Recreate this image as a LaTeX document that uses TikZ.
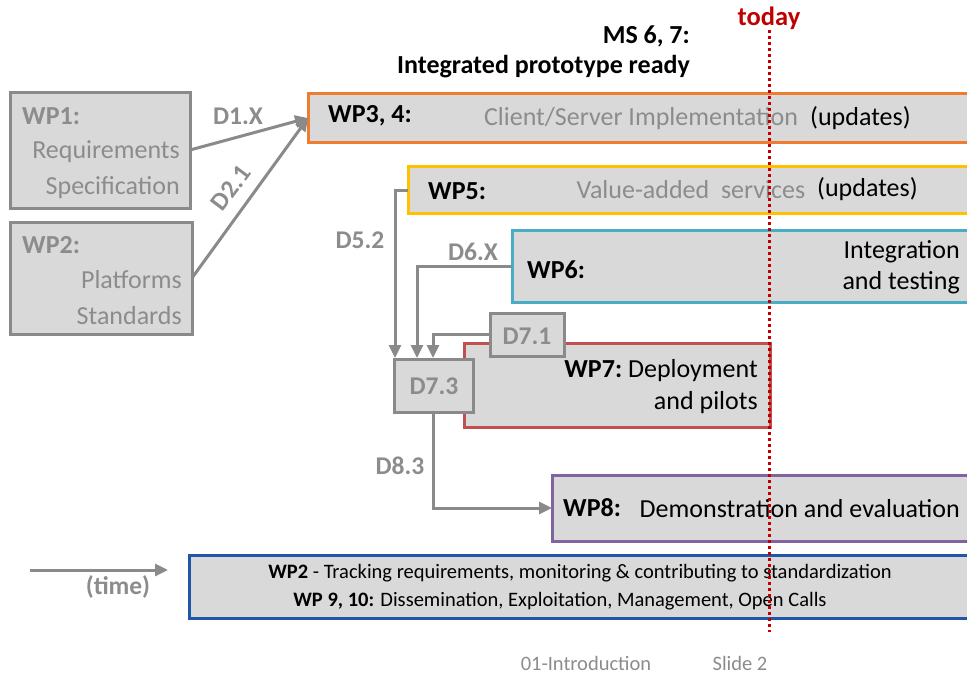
\documentclass[tikz,border=0pt]{standalone}
\usepackage{fontspec}
\setmainfont{Carlito}
\usetikzlibrary{arrows.meta}
\definecolor{boxfill}{HTML}{D9D9D9}
\definecolor{gborder}{HTML}{8A8A8A}
\definecolor{gtext}{HTML}{8C8C8C}
\definecolor{wporange}{HTML}{ED7D31}
\definecolor{wpyellow}{HTML}{FFC000}
\definecolor{wpteal}{HTML}{4BACC6}
\definecolor{wpred}{HTML}{C0504D}
\definecolor{wppurple}{HTML}{8064A2}
\definecolor{wpblue}{HTML}{1F56A8}
\definecolor{todayred}{HTML}{C00000}
\tikzset{
  wpbox/.style={fill=boxfill, line width=3pt},
  graybox/.style={wpbox, draw=gborder},
  conn/.style={draw=gborder, line width=3pt, -{Triangle[length=13pt,width=12pt]}},
  big/.style={font=\fontsize{26}{30}\selectfont, inner sep=0pt},
  bigb/.style={font=\fontsize{26}{30}\selectfont\bfseries, inner sep=0pt},
  small/.style={font=\fontsize{20.5}{24}\selectfont, inner sep=0pt},
  dlabel/.style={font=\fontsize{25.5}{30}\selectfont\bfseries, text=gtext, inner sep=0pt},
}
\begin{document}
\begin{tikzpicture}[x=1pt,y=-1pt]
\useasboundingbox (0,0) rectangle (967,675);
\begin{scope}
\clip (0,0) rectangle (967,675);
% WP1 and WP2
\draw[graybox] (10,92) rectangle (190,208);
\coordinate (wp1) at (190,150);
\node[bigb,text=gtext,anchor=west] (wp1h) at (22,116) {WP1:};
\node[big,text=gtext,anchor=east] (wp1a) at (180,152) {Requirements};
\node[big,text=gtext,anchor=east] (wp1b) at (180,188) {Specification};
\draw[graybox] (10,222) rectangle (192,334);
\coordinate (wp2) at (192,278);
\node[bigb,text=gtext,anchor=west] (wp2h) at (22,245) {WP2:};
\node[big,text=gtext,anchor=east] (wp2a) at (182,280) {Platforms};
\node[big,text=gtext,anchor=east] (wp2b) at (182,316) {Standards};
% WP3,4
\draw[wpbox,draw=wporange] (308,93) rectangle (990,142);
\coordinate (wp34) at (308,118);
\node[bigb,anchor=west] (wp34h) at (328,116) {WP3, 4:};
\node[big,text=gtext] (wp34t) at (641,119) {Client/Server Implementation};
\node[big,anchor=west] (wp34u) at (810,118) {(updates)};
% WP5
\draw[wpbox,draw=wpyellow] (408,166) rectangle (990,213);
\coordinate (wp5) at (408,190);
\node[bigb,anchor=west] (wp5h) at (428,191) {WP5:};
\node[big,text=gtext] (wp5t) at (691,190) {Value-added\ \ services};
\node[big,anchor=west] (wp5u) at (817,189) {(updates)};
% WP6
\draw[wpbox,draw=wpteal] (512,230) rectangle (990,302);
\coordinate (wp6) at (512,266);
\node[bigb,anchor=west] (wp6h) at (527,270) {WP6:};
\node[big,anchor=east] (wp6a) at (960,252) {Integration};
\node[big,anchor=east] (wp6b) at (960,283) {and testing};
% WP7
\draw[wpbox,draw=wpred] (464,343) rectangle (770,427);
\node[big,anchor=east] (wp7a) at (758,371) {\textbf{WP7:}\ Deployment};
\node[big,anchor=east] (wp7b) at (758,403) {and pilots};
% D7.1, D7.3
\draw[graybox] (490,313) rectangle (564,356);
\node[dlabel] (d71) at (527,336) {D7.1};
\coordinate (d71w) at (490,334);
\draw[graybox] (394,359) rectangle (473,412);
\node[dlabel] (d73) at (434,386) {D7.3};
% WP8
\draw[wpbox,draw=wppurple] (552,475) rectangle (990,541);
\coordinate (wp8) at (552,508);
\node[bigb,anchor=west] (wp8h) at (563,508) {WP8:};
\node[big,anchor=east] (wp8t) at (960,509) {Demonstration and evaluation};
% Bottom box
\draw[wpbox,draw=wpblue] (189,555) rectangle (990,618);
\node[small] (b1) at (580,573) {\textbf{WP2} - Tracking requirements, monitoring \& contributing to standardization};
\node[small] (b2) at (560,601) {\textbf{WP 9, 10:} Dissemination, Exploitation, Management, Open Calls};
\end{scope}
% connectors
\draw[conn] (wp1) -- (wp34);
\draw[conn] (wp2) -- (wp34);
\node[dlabel] (l1) at (238,116) {D1.X};
\node[dlabel,rotate=53] (l2) at (231,188) {D2.1};
\draw[conn] (wp5) -- (395,190) -- (395,358);
\node[dlabel] (l52) at (360,240) {D5.2};
\draw[conn] (wp6) -- (417,266) -- (417,358);
\node[dlabel] (l6x) at (473,252) {D6.X};
\draw[conn] (d71w) -- (433,334) -- (433,358);
\draw[conn] (433,412) -- (433,508) -- (wp8);
\node[dlabel] (l83) at (400,466) {D8.3};
% time arrow
\coordinate (t0) at (30,570);
\coordinate (t1) at (168,570);
\draw[conn] (t0) -- (t1);
\node[dlabel] (time) at (118,587) {(time)};
% milestone
\node[bigb,anchor=east] (ms1) at (690,36) {MS 6, 7:};
\node[bigb,anchor=east] (ms2) at (690,67) {Integrated prototype ready};
% today
\node[font=\fontsize{26.5}{30}\selectfont\bfseries,inner sep=0pt,text=todayred] (today) at (769,18) {today};
\draw[todayred, line width=3pt, dash pattern=on 3pt off 3pt] (769,30) -- (769,632);
% footer
\node[font=\fontsize{20.5}{24}\selectfont,inner sep=0pt,text=gtext] (f1) at (586,663) {01-Introduction};
\node[font=\fontsize{20.5}{24}\selectfont,inner sep=0pt,text=gtext] (f2) at (740,663) {Slide 2};
\end{tikzpicture}
\end{document}
